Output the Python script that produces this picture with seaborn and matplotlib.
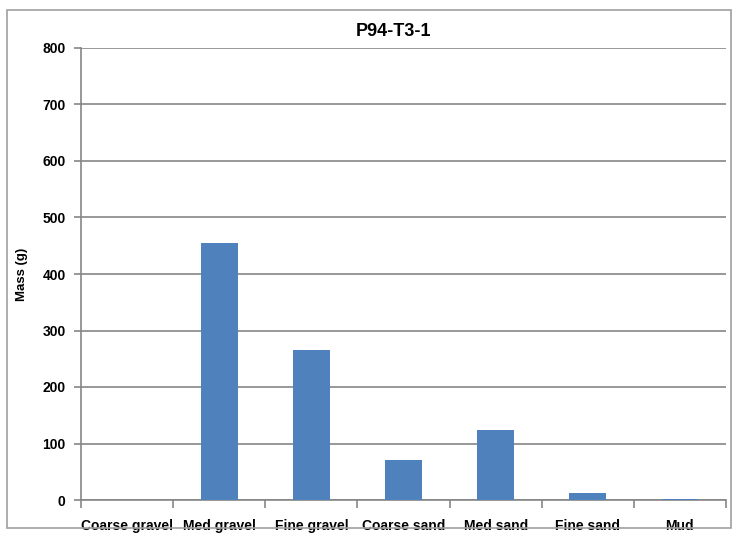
import matplotlib
matplotlib.use("Agg")
import matplotlib.pyplot as plt
import seaborn as sns
import pandas as pd
from matplotlib.patches import Rectangle
from matplotlib.ticker import FixedLocator

# data
categories = ["Coarse gravel", "Med gravel", "Fine gravel", "Coarse sand",
              "Med sand", "Fine sand", "Mud"]
mass = [0, 455, 265, 70, 124, 12, 1]

df = pd.DataFrame({"Fraction": categories, "Mass": mass})

sns.set_style("white")
plt.rcParams['font.family'] = ['Liberation Sans', 'DejaVu Sans']
plt.rcParams['text.color'] = 'black'
plt.rcParams['axes.labelcolor'] = 'black'
plt.rcParams['xtick.color'] = 'black'
plt.rcParams['ytick.color'] = 'black'

fig = plt.figure(figsize=(7.35, 5.38), dpi=100)
ax = fig.add_axes([81 / 735, 1 - 500 / 538, 645 / 735, 452 / 538])

sns.barplot(data=df, x="Fraction", y="Mass", color="#4F81BD", width=0.4,
            saturation=1, linewidth=0, ax=ax, zorder=3)

ax.set_ylim(0, 800)
ax.set_xlim(-0.5, len(categories) - 0.5)
ax.set_yticks(range(0, 801, 100))
ax.yaxis.grid(True, color="#868686", linewidth=1.2, zorder=0)
ax.set_axisbelow(True)

# Excel-like ticks: marks at category boundaries, labels at centres
ax.xaxis.set_major_locator(FixedLocator([i - 0.5 for i in range(len(categories) + 1)]))
ax.xaxis.set_minor_locator(FixedLocator(range(len(categories))))
ax.set_xticklabels([])
ax.set_xticklabels(categories, minor=True)
ax.tick_params(axis="x", which="major", length=6, color="#868686", width=1.2, bottom=True)
ax.tick_params(axis="x", which="minor", length=0, pad=14, labelsize=10)
ax.tick_params(axis="y", length=5, color="#868686", width=1.2, left=True,
               labelsize=10, pad=6)
for lab in ax.get_xticklabels(minor=True) + ax.get_yticklabels():
    lab.set_fontweight("bold")

for s in ["top", "right"]:
    ax.spines[s].set_visible(False)
for s in ["left", "bottom"]:
    ax.spines[s].set_color("#868686")
    ax.spines[s].set_linewidth(1.2)

ax.set_xlabel("")
ax.set_ylabel("Mass (g)", fontsize=9.5, fontweight="bold")
ax.yaxis.set_label_coords(-53 / 645, 0.5)
fig.text(0.535, 1 - 32 / 538, "P94-T3-1", ha="center", va="center",
         fontsize=13, fontweight="bold")

fig.patches.append(Rectangle((7 / 735, 1 - 528 / 538), 724 / 735, 518 / 538,
                             transform=fig.transFigure, fill=False,
                             edgecolor="#A0A0A0", linewidth=1.2))

fig.savefig("out.png", dpi=100)
